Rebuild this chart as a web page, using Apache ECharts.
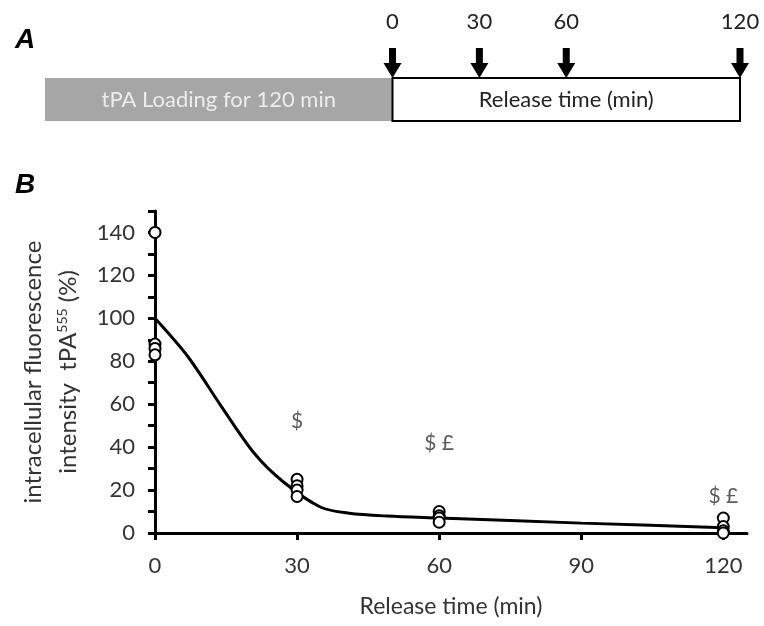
<!DOCTYPE html>
<html>
<head>
<meta charset="utf-8">
<script src="https://cdn.jsdelivr.net/npm/echarts@6/dist/echarts.min.js"></script>
<style>
  html, body { margin: 0; padding: 0; background: #fff; }
  #chart { width: 764px; height: 626px; }
</style>
</head>
<body>
<div id="chart"></div>
<script>
// panel A: schematic of the protocol (minutes)
const phaseStarts = [-120, 0];
const phaseEnds = [0, 120];
const phaseLabels = ['tPA Loading for 120 min', 'Release time (min)'];
const releaseTimes = [0, 30, 60, 120];

// panel B: replicate measurements per release time (%)
const t0Values = [140, 88, 86, 83];
const t30Values = [25, 22, 20, 17];
const t60Values = [10, 8, 7, 5];
const t120Values = [7, 3, 1, 0];

// fitted curve
const fitTimes = [0, 7, 14, 21, 27, 35, 41, 49, 60, 90, 120];
const fitValues = [100, 82, 59, 37, 24, 12, 9.2, 7.9, 7, 4.6, 2.5];

// significance marks
const sigTimes = [30, 60, 120];
const sigHeights = [52, 42, 17];
const sigLabels = ['$', '$ £', '$ £'];

const xTicks = [0, 30, 60, 90, 120];
const yLabels = [0, 20, 40, 60, 80, 100, 120, 140];

const font = 'Lato';
const textColor = '#333';

const points = [];
[[0, t0Values], [30, t30Values], [60, t60Values], [120, t120Values]].forEach(([t, vals]) => {
  vals.forEach(v => points.push([t, v]));
});

const chart = echarts.init(document.getElementById('chart'), null, { renderer: 'canvas' });

chart.setOption({
  animation: false,
  title: [
    { text: 'A', left: 10, top: 21, textStyle: { fontFamily: 'Liberation Sans', fontWeight: 'bold', fontStyle: 'italic', fontSize: 28, color: '#000' } },
    { text: 'B', left: 10, top: 166, textStyle: { fontFamily: 'Liberation Sans', fontWeight: 'bold', fontStyle: 'italic', fontSize: 28, color: '#000' } }
  ],
  grid: [
    { left: 155, right: 17, top: 211, bottom: 93 },
    { left: 45, right: 24, top: 78, height: 43 }
  ],
  xAxis: [
    {
      type: 'value', gridIndex: 0, min: 0, max: 125,
      name: 'Release time (min)', nameLocation: 'middle', nameGap: 62,
      nameTextStyle: { fontFamily: font, fontSize: 23, color: textColor },
      axisLine: { lineStyle: { color: '#000', width: 3 } },
      axisTick: { customValues: xTicks, length: 7, lineStyle: { color: '#000', width: 3 } },
      axisLabel: { customValues: xTicks, margin: 22, fontFamily: font, fontSize: 22, color: textColor },
      splitLine: { show: false }
    },
    { type: 'value', gridIndex: 1, min: -120, max: 120, show: false }
  ],
  yAxis: [
    {
      type: 'value', gridIndex: 0, min: 0, max: 150, interval: 10,
      name: 'intracellular fluorescence\nintensity  tPA{sup|555} (%)',
      nameLocation: 'middle', nameRotate: 90, nameGap: 67,
      nameTextStyle: {
        fontFamily: font, fontSize: 24, color: textColor, lineHeight: 35,
        rich: { sup: { fontFamily: font, fontSize: 14, color: textColor, padding: [0, 0, 12, 0] } }
      },
      axisLine: { lineStyle: { color: '#000', width: 3 } },
      axisTick: { length: 7, lineStyle: { color: '#000', width: 3 } },
      axisLabel: { customValues: yLabels, margin: 20, fontFamily: font, fontSize: 22, color: textColor },
      splitLine: { show: false }
    },
    { type: 'value', gridIndex: 1, min: 0, max: 1, show: false }
  ],
  series: [
    {
      type: 'line', xAxisIndex: 0, yAxisIndex: 0,
      data: fitTimes.map((t, i) => [t, fitValues[i]]),
      smooth: 0.3, showSymbol: false,
      lineStyle: { color: '#000', width: 3 }, z: 3
    },
    {
      type: 'scatter', xAxisIndex: 0, yAxisIndex: 0,
      data: points, symbol: 'emptyCircle', symbolSize: 11,
      itemStyle: { color: '#000', borderColor: '#000', borderWidth: 3, opacity: 1 }, z: 4
    },
    {
      type: 'scatter', xAxisIndex: 0, yAxisIndex: 0,
      data: sigTimes.map((t, i) => [t, sigHeights[i], sigLabels[i]]),
      symbolSize: 0,
      label: {
        show: true, position: 'inside', formatter: p => p.value[2],
        fontFamily: font, fontSize: 21, color: textColor
      }
    },
    {
      type: 'custom', xAxisIndex: 1, yAxisIndex: 1,
      data: phaseStarts.map((s, i) => [s, phaseEnds[i], i]),
      renderItem: (params, api) => {
        const i = api.value(2);
        const p0 = api.coord([api.value(0), 1]);
        const p1 = api.coord([api.value(1), 0]);
        const gray = i === 0;
        return {
          type: 'group',
          children: [
            {
              type: 'rect',
              shape: { x: p0[0], y: p0[1], width: p1[0] - p0[0], height: p1[1] - p0[1] },
              style: gray ? { fill: '#a6a6a6' } : { fill: '#fff', stroke: '#000', lineWidth: 2 }
            },
            {
              type: 'text',
              style: {
                text: phaseLabels[i], x: (p0[0] + p1[0]) / 2, y: (p0[1] + p1[1]) / 2,
                textAlign: 'center', textVerticalAlign: 'middle',
                fontFamily: font, fontSize: 22, fill: gray ? '#ececec' : '#222'
              }
            }
          ]
        };
      }
    },
    {
      type: 'custom', xAxisIndex: 1, yAxisIndex: 1,
      data: releaseTimes.map(t => [t, 1]),
      renderItem: (params, api) => {
        const p = api.coord([api.value(0), api.value(1)]);
        const x = p[0], y = p[1];
        return {
          type: 'group',
          children: [
            {
              type: 'polygon',
              shape: { points: [[x - 3.5, y - 30], [x + 3.5, y - 30], [x + 3.5, y - 15], [x + 9, y - 15], [x, y], [x - 9, y - 15], [x - 3.5, y - 15]] },
              style: { fill: '#000' }
            },
            {
              type: 'text',
              style: {
                text: String(api.value(0)), x: x, y: y - 56,
                textAlign: 'center', textVerticalAlign: 'middle',
                fontFamily: font, fontSize: 22, fill: '#222'
              }
            }
          ]
        };
      }
    }
  ]
});
</script>
</body>
</html>
